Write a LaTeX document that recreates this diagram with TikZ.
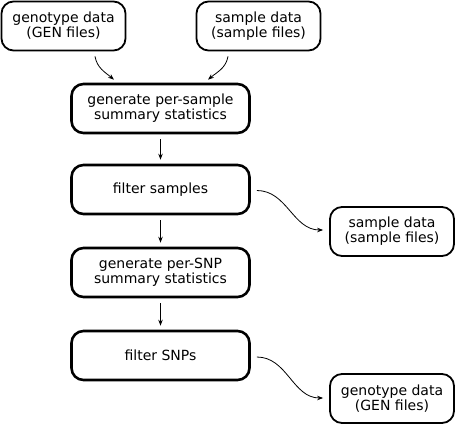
\documentclass[tikz,border=0pt]{standalone}
\usepackage{fontspec}
\setmainfont{DejaVu Sans}
\usetikzlibrary{arrows.meta}
\begin{document}
\begin{tikzpicture}[x=1pt,y=-1pt,
  databox/.style={draw, rounded corners=12pt, line width=1.8pt, minimum width=124pt, minimum height=49pt, align=center, inner sep=0pt, font=\fontsize{14}{15}\selectfont},
  stepbox/.style={draw, rounded corners=12pt, line width=2.6pt, minimum width=178pt, minimum height=49pt, align=center, inner sep=0pt, font=\fontsize{14}{15}\selectfont},
  arr/.style={-{Stealth[length=6pt,width=4.5pt]}, line width=0.8pt}]
\useasboundingbox (0,0) rectangle (457,425);
\node[databox] (g1) at (63.5,26) {genotype data\\(GEN files)};
\node[databox] (s1) at (258.5,26) {sample data\\(sample files)};
\node[stepbox] (gps) at (160.5,108.5) {generate per-sample\\summary statistics};
\node[stepbox] (fs) at (160.5,189.5) {filter samples};
\node[stepbox] (gsnp) at (160.5,272.5) {generate per-SNP\\summary statistics};
\node[stepbox] (fsnp) at (160.5,355.5) {filter SNPs};
\node[databox] (s2) at (392,231.5) {sample data\\(sample files)};
\node[databox] (g2) at (392,398.5) {genotype data\\(GEN files)};
\draw[arr] ([xshift=31.5pt,yshift=-5pt]g1.south) to[out=-80,in=140] ([xshift=-46.5pt,yshift=3pt]gps.north);
\draw[arr] ([xshift=-30.5pt,yshift=-5pt]s1.south) to[out=-100,in=40] ([xshift=47.5pt,yshift=3pt]gps.north);
\draw[arr] ([yshift=-5pt]gps.south) -- ([yshift=4pt]fs.north);
\draw[arr] ([yshift=-5pt]fs.south) -- ([yshift=4pt]gsnp.north);
\draw[arr] ([yshift=-5pt]gsnp.south) -- ([yshift=4pt]fsnp.north);
\draw[arr] ([xshift=6pt,yshift=-1pt]fs.east) to[out=0,in=180] ([xshift=-6pt,yshift=1.5pt]s2.west);
\draw[arr] ([xshift=6pt,yshift=-1.5pt]fsnp.east) to[out=0,in=180] ([xshift=-6pt,yshift=0.5pt]g2.west);
\end{tikzpicture}
\end{document}
